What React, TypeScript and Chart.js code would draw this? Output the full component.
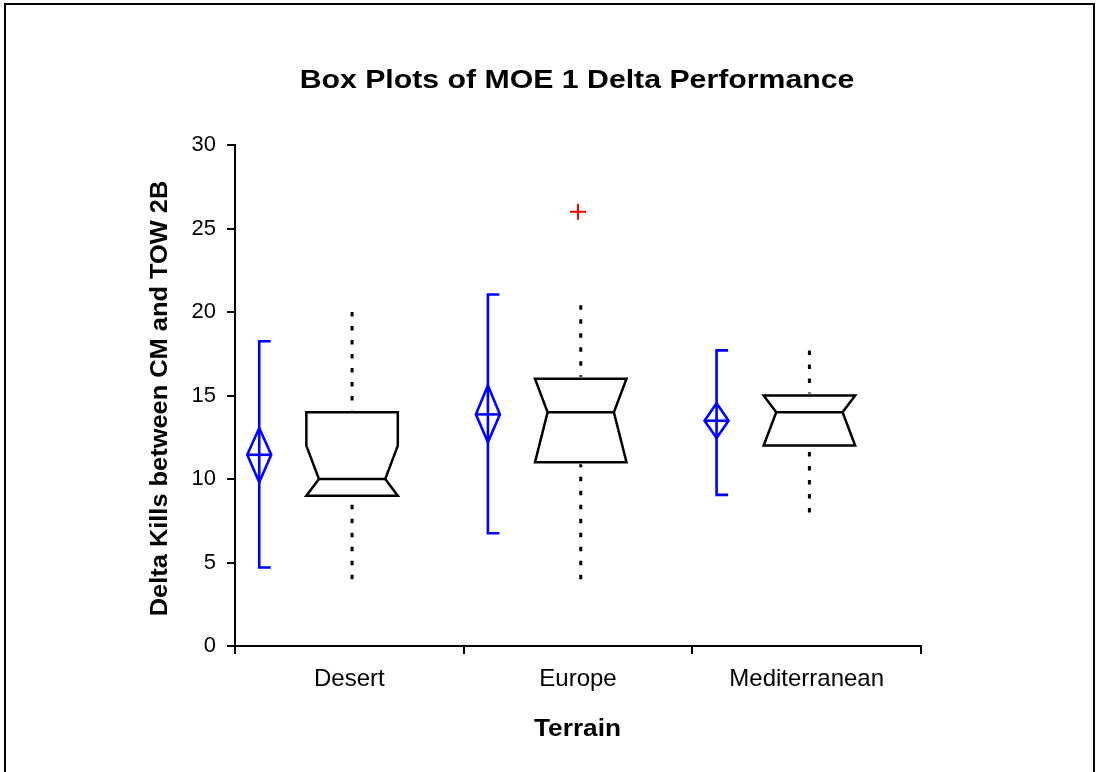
import React, { useEffect, useRef } from 'react';
import { Chart, registerables } from 'chart.js';

Chart.register(...registerables);

// ---- data ----
const categories = ['Desert', 'Europe', 'Mediterranean'];
const yTicks = [0, 5, 10, 15, 20, 25, 30];

// notched box plot
const whiskerLow = [4, 4, 8];
const q1 = [9, 11, 12];
const median = [10, 14, 14];
const q3 = [14, 16, 15];
const whiskerHigh = [20, 20.4, 17.7];
const notchLow = [9, 11, 12];
const notchHigh = [12, 16, 15];

// outliers
const outlierCategory = ['Europe'];
const outlierValue = [26];

// mean diamonds and error bars
const means = [11.45, 13.87, 13.49];
const ciLow = [9.8, 12.2, 12.45];
const ciHigh = [13.05, 15.6, 14.53];
const sdLow = [4.7, 6.75, 9.05];
const sdHigh = [18.25, 21.05, 17.7];

const FONT = '"Liberation Sans", Arial, sans-serif';

function stretchedText(
  ctx: CanvasRenderingContext2D,
  text: string,
  x: number,
  y: number,
  font: string,
  sx: number,
  rotate: boolean
) {
  ctx.save();
  ctx.translate(x, y);
  if (rotate) ctx.rotate(-Math.PI / 2);
  ctx.scale(sx, 1);
  ctx.font = font;
  ctx.fillStyle = '#000';
  ctx.textAlign = 'center';
  ctx.textBaseline = 'alphabetic';
  ctx.fillText(text, 0, 0);
  ctx.restore();
}

const boxPlugin = {
  id: 'boxPlots',
  beforeDraw(chart: any) {
    const ctx = chart.ctx as CanvasRenderingContext2D;
    ctx.save();
    ctx.fillStyle = '#fff';
    ctx.fillRect(0, 0, chart.width, chart.height);
    ctx.restore();
  },
  afterDatasetsDraw(chart: any) {
    const ctx = chart.ctx as CanvasRenderingContext2D;
    const xs = chart.scales.x;
    const ys = chart.scales.y;
    const catW = xs.width / categories.length;
    const py = (v: number) => ys.getPixelForValue(v);

    categories.forEach((_, i) => {
      const cx = xs.getPixelForValue(i);

      // ---- blue mean diamond + error bar ----
      const bx = cx - 0.394 * catW;
      const dw = 12;
      const cap = 11.5;
      ctx.save();
      ctx.strokeStyle = '#0000FF';
      ctx.lineWidth = 2.6;
      ctx.lineJoin = 'miter';
      ctx.beginPath();
      ctx.moveTo(bx + cap, py(sdHigh[i]));
      ctx.lineTo(bx, py(sdHigh[i]));
      ctx.lineTo(bx, py(sdLow[i]));
      ctx.lineTo(bx + cap, py(sdLow[i]));
      ctx.stroke();
      ctx.beginPath();
      ctx.moveTo(bx, py(ciHigh[i]));
      ctx.lineTo(bx + dw, py(means[i]));
      ctx.lineTo(bx, py(ciLow[i]));
      ctx.lineTo(bx - dw, py(means[i]));
      ctx.closePath();
      ctx.stroke();
      ctx.beginPath();
      ctx.moveTo(bx - dw, py(means[i]));
      ctx.lineTo(bx + dw, py(means[i]));
      ctx.stroke();
      ctx.restore();

      // ---- notched box ----
      const bc = cx + 0.012 * catW;
      const half = 0.2 * catW;
      const inset = 0.055 * catW;
      const L = bc - half;
      const R = bc + half;
      ctx.save();
      ctx.strokeStyle = '#000';
      ctx.lineWidth = 2.5;
      ctx.lineJoin = 'miter';
      ctx.beginPath();
      ctx.moveTo(L, py(q3[i]));
      ctx.lineTo(R, py(q3[i]));
      ctx.lineTo(R, py(notchHigh[i]));
      ctx.lineTo(R - inset, py(median[i]));
      ctx.lineTo(R, py(notchLow[i]));
      ctx.lineTo(R, py(q1[i]));
      ctx.lineTo(L, py(q1[i]));
      ctx.lineTo(L, py(notchLow[i]));
      ctx.lineTo(L + inset, py(median[i]));
      ctx.lineTo(L, py(notchHigh[i]));
      ctx.closePath();
      ctx.stroke();
      ctx.beginPath();
      ctx.moveTo(L + inset, py(median[i]));
      ctx.lineTo(R - inset, py(median[i]));
      ctx.stroke();

      // dotted whiskers (drawn from the extreme towards the box)
      ctx.lineWidth = 3;
      ctx.lineCap = 'butt';
      ctx.setLineDash([4.5, 9.5]);
      ctx.beginPath();
      ctx.moveTo(bc, py(whiskerHigh[i]));
      ctx.lineTo(bc, py(q3[i]) - 2);
      ctx.stroke();
      ctx.beginPath();
      ctx.moveTo(bc, py(whiskerLow[i]));
      ctx.lineTo(bc, py(q1[i]) + 2);
      ctx.stroke();
      ctx.restore();
    });
  },
  afterDraw(chart: any) {
    const ctx = chart.ctx as CanvasRenderingContext2D;
    const area = chart.chartArea;
    const midX = (area.left + area.right) / 2;
    // frame
    ctx.save();
    ctx.strokeStyle = '#000';
    ctx.lineWidth = 2;
    ctx.strokeRect(5, 4, 1089, 900);
    ctx.restore();
    // titles
    stretchedText(ctx, 'Box Plots of MOE 1 Delta Performance', midX - 1, 88, `bold 25px ${FONT}`, 1.21, false);
    stretchedText(ctx, 'Terrain', midX - 0.5, 736, `bold 23.7px ${FONT}`, 1.107, false);
    stretchedText(ctx, 'Delta Kills between CM and TOW 2B', 167, 398.5, `bold 23.3px ${FONT}`, 1.09, true);
  },
};

export default function App() {
  const ref = useRef<HTMLCanvasElement | null>(null);

  useEffect(() => {
    if (!ref.current) return;
    const outlierData = categories.map((c) => {
      const k = outlierCategory.indexOf(c);
      return k >= 0 ? outlierValue[k] : null;
    });
    const chart = new Chart(ref.current, {
      type: 'line',
      data: {
        labels: categories,
        datasets: [
          {
            label: 'Outliers',
            data: outlierData,
            showLine: false,
            pointStyle: 'cross',
            pointRadius: 8,
            pointBorderWidth: 2,
            borderColor: '#FF0000',
            backgroundColor: '#FF0000',
          },
        ],
      },
      options: {
        responsive: false,
        animation: false,
        layout: { padding: { left: 0, top: 145, right: 177, bottom: 0 } },
        plugins: {
          legend: { display: false },
          tooltip: { enabled: false },
          title: { display: false },
        },
        scales: {
          x: {
            type: 'category',
            offset: true,
            grid: {
              offset: true,
              drawOnChartArea: false,
              drawTicks: true,
              tickLength: 8,
              color: '#000',
              lineWidth: 2,
            },
            border: { display: true, color: '#000', width: 2 },
            ticks: {
              color: '#000',
              font: { family: FONT, size: 24 },
              padding: 11,
              maxRotation: 0,
              autoSkip: false,
            },
            afterFit: (s: any) => {
              s.height = 126;
            },
          },
          y: {
            min: 0,
            max: 30,
            afterBuildTicks: (s: any) => {
              s.ticks = yTicks.map((v) => ({ value: v }));
            },
            grid: {
              drawOnChartArea: false,
              drawTicks: true,
              tickLength: 8,
              color: '#000',
              lineWidth: 2,
            },
            border: { display: true, color: '#000', width: 2 },
            ticks: {
              color: '#000',
              font: { family: FONT, size: 22 },
              padding: 11,
            },
            afterFit: (s: any) => {
              s.width = 235;
            },
          },
        },
      },
      plugins: [boxPlugin],
    } as any);
    return () => chart.destroy();
  }, []);

  return (
    <div style={{ position: 'absolute', left: 0, top: 0, width: 1098, height: 772 }}>
      <canvas ref={ref} width={1098} height={772} style={{ display: 'block' }} />
    </div>
  );
}
